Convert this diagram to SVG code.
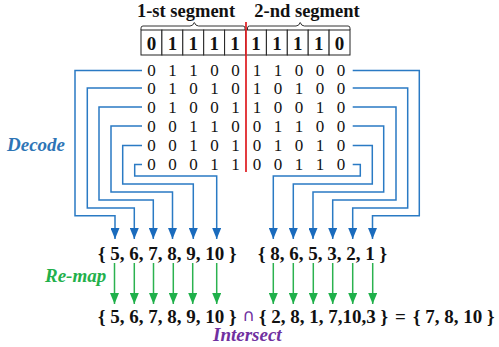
<svg xmlns="http://www.w3.org/2000/svg" width="499" height="347" viewBox="0 0 499 347">
<style>
.hdr{font-family:"Liberation Serif",serif;font-weight:bold;font-size:18.5px;fill:#111;text-anchor:middle}
.bit{font-family:"Liberation Serif",serif;font-weight:bold;font-size:19px;fill:#111;text-anchor:middle}
.mx{font-family:"Liberation Serif",serif;font-size:17px;fill:#111;text-anchor:middle}
.set{font-family:"Liberation Serif",serif;font-weight:bold;font-size:19px;fill:#111}
.lbl{font-family:"Liberation Serif",serif;font-weight:bold;font-style:italic;font-size:19px}
.cell{fill:#fff;stroke:#222;stroke-width:1}
.brace{fill:none;stroke:#333;stroke-width:1}
.blue{fill:none;stroke:#2a7ac4;stroke-width:1.5;marker-end:url(#ab)}
.green{fill:none;stroke:#2bb24f;stroke-width:1.5;marker-end:url(#ag)}
</style>
<defs>
<marker id="ab" markerUnits="userSpaceOnUse" markerWidth="11" markerHeight="9" viewBox="0 0 11 9" refX="11" refY="4.5" orient="auto"><path d="M0,0 L11,4.5 L0,9 z" fill="#1a6bbd"/></marker>
<marker id="ag" markerUnits="userSpaceOnUse" markerWidth="11" markerHeight="9" viewBox="0 0 11 9" refX="11" refY="4.5" orient="auto"><path d="M0,0 L11,4.5 L0,9 z" fill="#1fb04a"/></marker>
</defs>
<rect width="499" height="347" fill="#fff"/>

<g id="header">
<text class="hdr" x="186" y="17">1-st segment</text>
<text class="hdr" x="307" y="17">2-nd segment</text>
<path class="brace" d="M141,30 V28 Q141,26 143,26 H190 Q193,26 194.3,22.5 Q195.6,26 198.6,26 H243 Q245,26 245,28 V30"/>
<path class="brace" d="M247.5,30 V28 Q247.5,26 249.5,26 H296 Q299,26 300.2,22.5 Q301.4,26 304.4,26 H348 Q350,26 350,28 V30"/>
</g>

<g id="bitbox">
<rect class="cell" x="141" y="30" width="20.9" height="25"/>
<rect class="cell" x="161.9" y="30" width="20.9" height="25"/>
<rect class="cell" x="182.8" y="30" width="20.9" height="25"/>
<rect class="cell" x="203.7" y="30" width="20.9" height="25"/>
<rect class="cell" x="224.6" y="30" width="20.9" height="25"/>
<rect class="cell" x="245.5" y="30" width="20.9" height="25"/>
<rect class="cell" x="266.4" y="30" width="20.9" height="25"/>
<rect class="cell" x="287.3" y="30" width="20.9" height="25"/>
<rect class="cell" x="308.2" y="30" width="20.9" height="25"/>
<rect class="cell" x="329.1" y="30" width="20.9" height="25"/>
<text class="bit" y="50"><tspan x="151.5">0</tspan><tspan x="172.4">1</tspan><tspan x="193.3">1</tspan><tspan x="214.2">1</tspan><tspan x="235.1">1</tspan><tspan x="256">1</tspan><tspan x="276.9">1</tspan><tspan x="297.8">1</tspan><tspan x="318.7">1</tspan><tspan x="339.6">0</tspan></text>
</g>

<g id="matrix">
<text class="mx" y="76.2"><tspan x="151.5">0</tspan><tspan x="172.5">1</tspan><tspan x="193.5">1</tspan><tspan x="214.5">0</tspan><tspan x="235.5">0</tspan><tspan x="257">1</tspan><tspan x="278">1</tspan><tspan x="299">0</tspan><tspan x="320">0</tspan><tspan x="341">0</tspan></text>
<text class="mx" y="93.7"><tspan x="151.5">0</tspan><tspan x="172.5">1</tspan><tspan x="193.5">0</tspan><tspan x="214.5">1</tspan><tspan x="235.5">0</tspan><tspan x="257">1</tspan><tspan x="278">0</tspan><tspan x="299">1</tspan><tspan x="320">0</tspan><tspan x="341">0</tspan></text>
<text class="mx" y="112.7"><tspan x="151.5">0</tspan><tspan x="172.5">1</tspan><tspan x="193.5">0</tspan><tspan x="214.5">0</tspan><tspan x="235.5">1</tspan><tspan x="257">1</tspan><tspan x="278">0</tspan><tspan x="299">0</tspan><tspan x="320">1</tspan><tspan x="341">0</tspan></text>
<text class="mx" y="131.7"><tspan x="151.5">0</tspan><tspan x="172.5">0</tspan><tspan x="193.5">1</tspan><tspan x="214.5">1</tspan><tspan x="235.5">0</tspan><tspan x="257">0</tspan><tspan x="278">1</tspan><tspan x="299">1</tspan><tspan x="320">0</tspan><tspan x="341">0</tspan></text>
<text class="mx" y="151.2"><tspan x="151.5">0</tspan><tspan x="172.5">0</tspan><tspan x="193.5">1</tspan><tspan x="214.5">0</tspan><tspan x="235.5">1</tspan><tspan x="257">0</tspan><tspan x="278">1</tspan><tspan x="299">0</tspan><tspan x="320">1</tspan><tspan x="341">0</tspan></text>
<text class="mx" y="170.2"><tspan x="151.5">0</tspan><tspan x="172.5">0</tspan><tspan x="193.5">0</tspan><tspan x="214.5">1</tspan><tspan x="235.5">1</tspan><tspan x="257">0</tspan><tspan x="278">0</tspan><tspan x="299">1</tspan><tspan x="320">1</tspan><tspan x="341">0</tspan></text>
</g>

<line id="divider" x1="246" y1="22" x2="246" y2="172" stroke="#e0262b" stroke-width="1.8"/>

<g id="connectors">
<path class="blue" d="M142,70.5 H75 V215.7 H115 V239"/>
<path class="blue" d="M142,88 H87.3 V208 H134.3 V239"/>
<path class="blue" d="M142,107 H99 V200 H153.3 V239"/>
<path class="blue" d="M142,126 H111 V192 H172.5 V239"/>
<path class="blue" d="M142,145.5 H122.7 V184 H193.3 V239"/>
<path class="blue" d="M142,164.5 H134.7 V176 H216.7 V239"/>
<path class="blue" d="M352.7,70.5 H419.3 V215.7 H372.5 V239"/>
<path class="blue" d="M352.7,88 H407.7 V208 H352.7 V239"/>
<path class="blue" d="M352.7,107 H396 V200 H332.7 V239"/>
<path class="blue" d="M352.7,126 H383.7 V192 H313 V239"/>
<path class="blue" d="M352.7,145.5 H372.3 V184 H293.3 V239"/>
<path class="blue" d="M352.7,164.5 H360.3 V176 H273.3 V239"/>
<path class="green" d="M114.5,263 V304"/>
<path class="green" d="M134.3,263 V304"/>
<path class="green" d="M153.5,263 V304"/>
<path class="green" d="M173.3,263 V304"/>
<path class="green" d="M192.7,263 V304"/>
<path class="green" d="M216.7,263 V304"/>
<path class="green" d="M273.3,263 V304"/>
<path class="green" d="M293.3,263 V304"/>
<path class="green" d="M313.3,263 V304"/>
<path class="green" d="M332.7,263 V304"/>
<path class="green" d="M352.7,263 V304"/>
<path class="green" d="M372.7,263 V304"/>
</g>

<g id="label-decode"><text class="lbl" x="7" y="151" fill="#2e75b6">Decode</text></g>
<g id="label-remap"><text class="lbl" x="45" y="281.5" fill="#22b04b">Re-map</text></g>
<g id="label-intersect"><text class="lbl" x="213" y="341" fill="#7030a0">Intersect</text></g>

<g id="set-decoded-1"><text class="set" x="98" y="260">{ 5, 6, 7, 8, 9, 10 }</text></g>
<g id="set-decoded-2"><text class="set" x="258" y="260">{ 8, 6, 5, 3, 2, 1 }</text></g>
<g id="set-remapped-1"><text class="set" x="98" y="322.5">{ 5, 6, 7, 8, 9, 10 }</text></g>
<g id="op-intersect"><text x="242.5" y="320.5" font-family="DejaVu Sans,sans-serif" font-size="17" fill="#7030a0">∩</text></g>
<g id="set-remapped-2"><text class="set" x="259" y="322.5">{ 2, 8, 1, 7,10,3 }</text></g>
<g id="op-equals"><text class="set" x="395" y="322.5" fill="#7030a0">=</text></g>
<g id="set-result"><text class="set" x="413" y="322.5">{ 7, 8, 10 }</text></g>
</svg>
